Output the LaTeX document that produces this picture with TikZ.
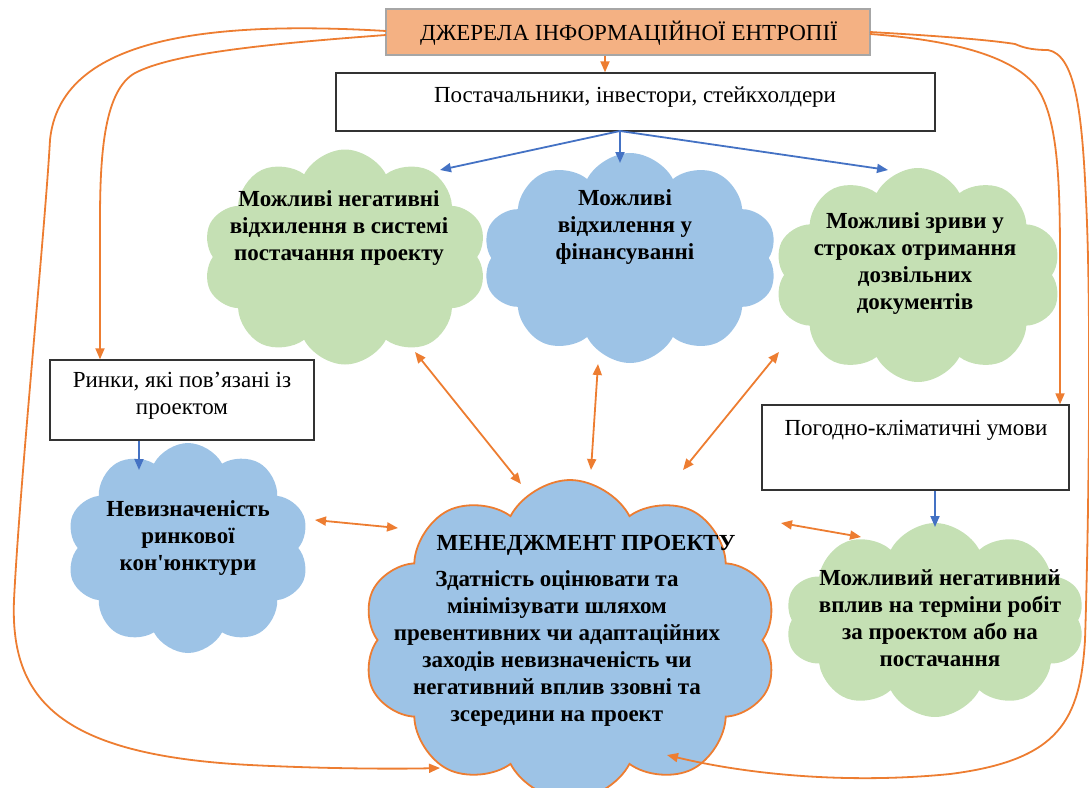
\documentclass[tikz,border=0pt]{standalone}
\usepackage{fontspec}
\setmainfont{Liberation Serif}
\newfontfamily\plainserif{Liberation Serif}
\usetikzlibrary{shapes.symbols,arrows.meta}
\definecolor{eorange}{HTML}{ED7D31}
\definecolor{eblue}{HTML}{4472C4}
\definecolor{cgreen}{HTML}{C5E0B4}
\definecolor{cblue}{HTML}{9DC3E6}
\definecolor{tfill}{HTML}{F4B183}
\begin{document}
\begin{tikzpicture}[x=1pt,y=-1pt,
  box/.style={draw=black!80, line width=1.3pt, fill=white, inner sep=0},
  cloudbase/.style={cloud, cloud puffs=10, cloud puff arc=125, cloud ignores aspect, inner sep=0, draw=none},
  gcloud/.style={cloudbase, fill=cgreen},
  bcloud/.style={cloudbase, fill=cblue},
  btext/.style={font=\bfseries\fontsize{23}{27}\selectfont, align=center, inner sep=0},
  rtext/.style={font=\fontsize{23}{27}\selectfont, align=center, inner sep=0},
  oarr/.style={draw=eorange, line width=1.8pt, -{Triangle[length=11pt,width=9pt]}},
  oboth/.style={draw=eorange, line width=1.8pt, {Triangle[length=11pt,width=9pt]}-{Triangle[length=11pt,width=9pt]}},
  barr/.style={draw=eblue, line width=1.8pt, -{Triangle[length=11pt,width=9pt]}}
]
\useasboundingbox (0,0) rectangle (1089,787);
\clip (0,0) rectangle (1089,787);

% boxes
\node[box, fill=tfill, draw=black!35, line width=2pt, minimum width=484pt, minimum height=46pt] (tit) at (628,32) {};
\node[rtext] (titt) at (629,33) {ДЖЕРЕЛА ІНФОРМАЦІЙНОЇ ЕНТРОПІЇ};
\node[box, minimum width=599pt, minimum height=58pt] (sup) at (635.5,102) {};
\node[rtext] (supt) at (635,97) {Постачальники, інвестори, стейкхолдери};
\node[box, minimum width=264pt, minimum height=80pt] (mkt) at (182,400) {};
\node[rtext] (mktt) at (182,396) {Ринки, які пов’язані із\\проектом};
\node[box, minimum width=307pt, minimum height=85pt] (wea) at (915.5,447.5) {};
\node[rtext] (weat) at (916,430) {Погодно-кліматичні умови};

% clouds
\node[gcloud, minimum width=284pt, minimum height=215pt] (c1) at (345,257) {};
\node[btext] (c1t) at (339,228) {Можливі негативні\\відхилення в системі\\постачання проекту};
\node[bcloud, minimum width=295pt, minimum height=210pt] (c2) at (630,258) {};
\node[btext] (c2t) at (625,227) {Можливі\\відхилення у\\фінансуванні};
\node[gcloud, minimum width=287pt, minimum height=214pt] (c3) at (918,275) {};
\node[btext] (c3t) at (915,263) {Можливі зриви у\\строках отримання\\дозвільних\\документів};
\node[bcloud, minimum width=243pt, minimum height=210pt] (c4) at (188,548) {};
\node[btext] (c4t) at (188,538) {Невизначеність\\ринкової\\кон{\plainserif\bfseries '}юнктури};
\node[gcloud, minimum width=300pt, minimum height=194pt] (c5) at (935,620) {};
\node[btext] (c5t) at (940,618) {Можливий негативний\\вплив на терміни робіт\\за проектом або на\\постачання};
\node[bcloud, draw=eorange, line width=1.8pt, minimum width=415pt, minimum height=320pt] (mg) at (570,640) {};
\node[btext] (mgh) at (586,545) {МЕНЕДЖМЕНТ ПРОЕКТУ};
\node[btext] (mgt) at (557,648) {Здатність оцінювати та\\мінімізувати шляхом\\превентивних чи адаптаційних\\заходів невизначеність чи\\негативний вплив ззовні та\\зсередини на проект};

% connector end points
\coordinate (tl1) at (386,31);
\coordinate (tl2) at (386,35);
\coordinate (tr1) at (870,32);
\coordinate (tr2) at (870,34);
\coordinate (ss) at (620,131);
\coordinate (mgl) at (440,768);
\coordinate (mgr) at (667,755);
\coordinate (a1) at (415,352); \coordinate (a1e) at (521,484);
\coordinate (a2) at (598,364); \coordinate (a2e) at (591,470);
\coordinate (a3) at (779,352); \coordinate (a3e) at (683,470);
\coordinate (a4) at (315,520); \coordinate (a4e) at (398,528);
\coordinate (a5) at (781,523); \coordinate (a5e) at (861,537);

% arrows
\draw[oarr] (tit.south -| 605,0) -- (sup.north -| 605,0);
\draw[barr] (ss) -- (440,170);
\draw[barr] (ss) -- (620,163);
\draw[barr] (ss) -- (888,170);
\draw[barr] (mkt.south -| 139,0) -- (139,470);
\draw[barr] (wea.south -| 935,0) -- (935,527);

\draw[oboth] (a1) -- (a1e);
\draw[oboth] (a2) -- (a2e);
\draw[oboth] (a3) -- (a3e);
\draw[oboth] (a4) -- (a4e);
\draw[oboth] (a5) -- (a5e);

% long curves
\draw[oarr] (tl1) .. controls (200,20) and (60,40) .. (50,140)
  .. controls (45,230) and (20,480) .. (14,600)
  .. controls (10,700) and (60,755) .. (250,765)
  .. controls (330,769) and (400,769) .. (mgl);
\draw[oarr] (tl2) .. controls (250,45) and (170,55) .. (135,73)
  .. controls (105,90) and (100,150) .. (100,220) -- (mkt.north -| 100,0);
\draw[oarr] (tr1) .. controls (940,36) and (990,40) .. (1015,44)
  .. controls (1022,47) and (1030,50) .. (1048,50)
  .. controls (1075,55) and (1082,110) .. (1086,200)
  .. controls (1092,320) and (1088,550) .. (1085,640)
  .. controls (1080,720) and (1060,760) .. (950,774)
  .. controls (850,784) and (750,775) .. (mgr);
\draw[oarr] (tr2) .. controls (950,40) and (1010,55) .. (1035,85)
  .. controls (1058,115) and (1060,180) .. (1060,260) -- (wea.north -| 1060,0);
\end{tikzpicture}
\end{document}
